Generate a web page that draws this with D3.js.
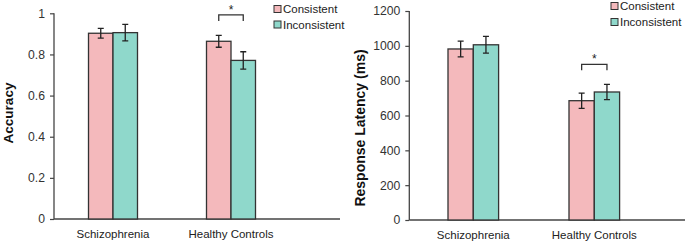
<!DOCTYPE html>
<html><head><meta charset="utf-8">
<script src="https://cdn.jsdelivr.net/npm/d3@7"></script>
<style>body{margin:0;background:#fff}svg{display:block;font-family:"Liberation Sans",Arial,sans-serif}</style>
</head><body>
<svg id="c" width="685" height="242"></svg>
<script>
const categories = ["Schizophrenia", "Healthy Controls"];
const seriesNames = ["Consistent", "Inconsistent"];
const accuracyMean = [[0.903, 0.906], [0.864, 0.771]];
const accuracyErr = [[0.024, 0.040], [0.029, 0.042]];
const latencyMean = [[982, 1006], [685, 735]];
const latencyErr = [[45, 48], [44, 44]];
const accuracyTicks = [0, 0.2, 0.4, 0.6, 0.8, 1];
const latencyTicks = [0, 200, 400, 600, 800, 1000, 1200];
const colors = ["#f4b9bc", "#8fd8cb"];

const svg = d3.select("#c");

function panel(o) {
  const g = svg.append("g");
  const y = d3.scaleLinear().domain(o.domain).range([o.y0, o.y1]);
  const x = d3.scalePoint().domain(categories).range(o.centers);
  const xs = d3.scaleBand().domain(seriesNames).range([-o.bw, o.bw]).padding(0);

  // y axis
  const ax = g.append("g").attr("transform", `translate(${o.axisX},0)`)
    .call(d3.axisLeft(y).tickValues(o.ticks).tickFormat(o.fmt).tickSize(4).tickPadding(5));
  ax.select(".domain").attr("stroke", "#444").attr("stroke-width", 1.3).attr("d", `M0,${o.y0}V${o.y1}`);
  ax.selectAll(".tick line").attr("stroke", "#444").attr("stroke-width", 1.2);
  ax.selectAll(".tick text").attr("fill", "#333").style("font-size", "12.2px").style("font-family", "Liberation Sans, Arial, sans-serif");

  // baseline
  g.append("line").attr("x1", o.axisX).attr("x2", o.baseEnd).attr("y1", o.y0).attr("y2", o.y0)
    .attr("stroke", "#444").attr("stroke-width", 1.3);

  // bars
  categories.forEach((c, i) => {
    seriesNames.forEach((s, j) => {
      const v = o.mean[i][j], e = o.err[i][j];
      const x0 = x(c) + xs(s);
      g.append("rect").attr("x", x0).attr("y", y(v)).attr("width", xs.bandwidth())
        .attr("height", y(0) - y(v)).attr("fill", colors[j]).attr("stroke", "#333").attr("stroke-width", 1.3);
      const cx = x0 + xs.bandwidth() / 2;
      g.append("path").attr("d", `M${cx},${y(v + e)}V${y(v - e)}M${cx - 3},${y(v + e)}H${cx + 3}M${cx - 3},${y(v - e)}H${cx + 3}`)
        .attr("stroke", "#222").attr("stroke-width", 1.3).attr("fill", "none");
    });
  });

  // significance bracket
  const hc = categories[1];
  const bx1 = x(hc) + xs(seriesNames[0]) + xs.bandwidth() / 2;
  const bx2 = x(hc) + xs(seriesNames[1]) + xs.bandwidth() / 2;
  const by = y(o.bracketV);
  g.append("path").attr("d", `M${bx1},${by + 6}V${by}H${bx2}V${by + 6}`)
    .attr("stroke", "#333").attr("stroke-width", 1.3).attr("fill", "none");
  g.append("text").attr("x", (bx1 + bx2) / 2).attr("y", by - 1).attr("text-anchor", "middle")
    .style("font-size", "12px").attr("fill", "#222").text("*");

  // category labels
  categories.forEach(c => {
    g.append("text").attr("x", x(c)).attr("y", o.catY).attr("text-anchor", "middle")
      .style("font-size", "11.5px").attr("fill", "#222").text(c);
  });

  // y title
  g.append("text").attr("transform", `translate(${o.titleX},${o.titleY}) rotate(-90)`)
    .attr("text-anchor", "middle").attr("dominant-baseline", "central")
    .style("font-size", o.titleSize).style("font-weight", "bold").attr("fill", "#111").text(o.title);

  // legend
  seriesNames.forEach((s, j) => {
    const ly = o.legY[j];
    g.append("rect").attr("x", o.legX).attr("y", ly - 3.5).attr("width", 7).attr("height", 7)
      .attr("fill", colors[j]).attr("stroke", "#333").attr("stroke-width", 1);
    g.append("text").attr("x", o.legX + 9).attr("y", ly).attr("dominant-baseline", "central")
      .style("font-size", "11.5px").attr("fill", "#222").text(s);
  });
}

panel({
  domain: [0, 1], y0: 219, y1: 13.3, centers: [113, 231], bw: 24.5, axisX: 54, baseEnd: 340,
  ticks: accuracyTicks, fmt: d => d === 0 ? "0" : (d === 1 ? "1" : d3.format(".1f")(d)),
  mean: accuracyMean, err: accuracyErr, bracketV: 0.992, catY: 237.5,
  titleX: 8.5, titleY: 113, titleSize: "13.5px", title: "Accuracy",
  legX: 274, legY: [9, 24.5]
});

panel({
  domain: [0, 1200], y0: 220, y1: 11, centers: [473.3, 594.3], bw: 25.3, axisX: 409.3, baseEnd: 685,
  ticks: latencyTicks, fmt: d3.format("d"),
  mean: latencyMean, err: latencyErr, bracketV: 894, catY: 238.5,
  titleX: 360, titleY: 128, titleSize: "14px", title: "Response Latency (ms)",
  legX: 611, legY: [6, 22]
});
</script>
</body></html>
